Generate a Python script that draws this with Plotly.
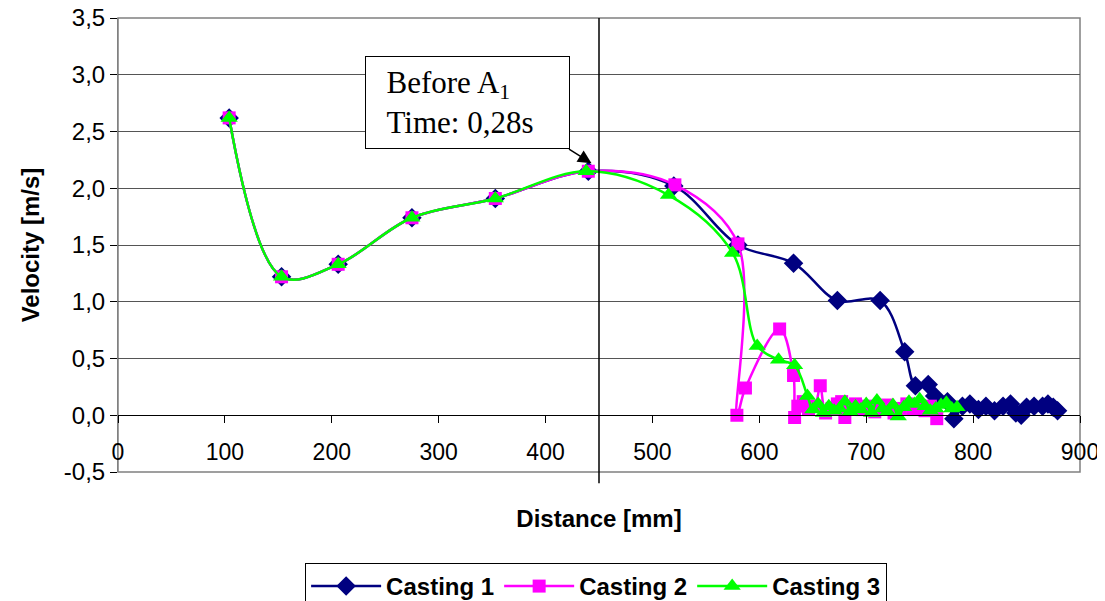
import plotly.graph_objects as go

# ---- data ----
c1_x = [104, 153, 206, 275, 353, 440, 520, 580, 632, 673, 713, 736, 746, 758, 764, 776, 782,
        790, 797, 805, 812, 820, 828, 835, 840, 845, 850, 857, 865, 870, 875, 879]
c1_y = [2.62, 1.22, 1.33, 1.74, 1.91, 2.15, 2.02, 1.50, 1.34, 1.01, 1.01, 0.56, 0.26, 0.27, 0.17, 0.12, -0.03,
        0.08, 0.10, 0.05, 0.08, 0.04, 0.08, 0.10, 0.02, 0.00, 0.07, 0.08, 0.08, 0.10, 0.07, 0.04]

c2_x = [104, 153, 206, 275, 353, 440, 521, 580, 579, 587, 619, 632, 633, 636, 641, 646, 652, 657, 662,
        668, 673, 677, 680, 684, 690, 696, 702, 708, 714, 720, 726, 732, 738, 744, 750, 755, 760, 766]
c2_y = [2.62, 1.22, 1.33, 1.74, 1.91, 2.15, 2.03, 1.51, 0.00, 0.24, 0.76, 0.35, -0.02, 0.08, 0.12, 0.05, 0.08, 0.26, 0.02,
        0.06, 0.10, 0.12, -0.02, 0.08, 0.10, 0.05, 0.08, 0.03, 0.07, 0.09, 0.02, 0.06, 0.10, 0.05, 0.08, 0.04, 0.08, -0.03]

c3_x = [104, 153, 206, 275, 353, 438, 515, 575, 598, 618, 633, 645, 650, 655, 660, 665, 670, 675, 680, 685,
        690, 695, 700, 705, 710, 715, 720, 725, 730, 735, 740, 745, 750, 755, 760, 765, 770, 775, 780, 785]
c3_y = [2.62, 1.22, 1.33, 1.74, 1.91, 2.15, 1.94, 1.43, 0.61, 0.49, 0.44, 0.17, 0.05, 0.10, 0.02, 0.08, 0.04, 0.06, 0.12, 0.03,
        0.08, 0.05, 0.10, 0.02, 0.13, 0.06, 0.03, 0.09, -0.01, 0.07, 0.12, 0.10, 0.14, 0.08, 0.04, 0.06, 0.09, 0.11, 0.06, 0.07]

series_names = ["Casting 1", "Casting 2", "Casting 3"]
series_colors = ["#000080", "#FF00FF", "#00FF00"]
series_symbols = ["diamond", "square", "triangle-up"]
series_msizes = [15, 13, 15]

y_tick_vals = [-0.5, 0.0, 0.5, 1.0, 1.5, 2.0, 2.5, 3.0, 3.5]
y_tick_text = ["-0,5", "0,0", "0,5", "1,0", "1,5", "2,0", "2,5", "3,0", "3,5"]
x_tick_vals = [0, 100, 200, 300, 400, 500, 600, 700, 800, 900]
x_tick_text = ["0", "100", "200", "300", "400", "500", "600", "700", "800", "900"]

marker_line_x = 450  # vertical reference line
annot_text = "&nbsp;&nbsp;Before A<sub>1</sub><br>&nbsp;&nbsp;Time: 0,28s"

fig = go.Figure()
for name, xs, ys, col, sym, ms in zip(series_names, [c1_x, c2_x, c3_x], [c1_y, c2_y, c3_y],
                                      series_colors, series_symbols, series_msizes):
    fig.add_trace(go.Scatter(
        x=xs, y=ys, name=name, mode="lines+markers",
        line=dict(color=col, width=2.5, shape="spline", smoothing=1.0),
        marker=dict(symbol=sym, size=ms, color=col),
    ))

# page has an 8px body margin, so the figure is drawn 8px smaller and shifted
fig.update_layout(
    width=1097, height=593,
    margin=dict(l=110, r=25, t=10, b=129, autoexpand=False),
    plot_bgcolor="white", paper_bgcolor="white",
    font=dict(family="Arial, Liberation Sans", color="black"),
    showlegend=True,
    legend=dict(
        orientation="h", x=0.497, xanchor="center", y=-0.2004, yanchor="top",
        bordercolor="black", borderwidth=1, bgcolor="white",
        font=dict(size=24, family="Arial, Liberation Sans", weight="bold"),
        itemwidth=70, tracegroupgap=0,
    ),
    xaxis=dict(
        range=[0, 900], tickmode="array", tickvals=x_tick_vals, ticktext=x_tick_text,
        showgrid=False, zeroline=False,
        anchor="free", position=0.125, automargin=False,
        showline=True, linecolor="black", linewidth=1,
        ticks="outside", ticklen=7, tickcolor="black",
        ticklabelstandoff=9, ticklabeloverflow="allow",
        tickfont=dict(size=23),
        title=dict(text="<b>Distance [mm]</b>", font=dict(size=24), standoff=46),
    ),
    yaxis=dict(
        range=[-0.5, 3.5], tickmode="array", tickvals=y_tick_vals, ticktext=y_tick_text,
        automargin=False, ticklabeloverflow="allow",
        showgrid=True, gridcolor="#555", gridwidth=1, zeroline=False,
        showline=True, linecolor="#808080", linewidth=1,
        ticks="outside", ticklen=7, tickcolor="black",
        tickfont=dict(size=24),
        title=dict(text="<b>Velocity [m/s]</b>", font=dict(size=24), standoff=17),
    ),
)

# plot-area border
fig.add_shape(type="rect", xref="paper", yref="paper", x0=0, x1=1, y0=0, y1=1,
              line=dict(color="#808080", width=1.5), layer="below")
# vertical reference line
fig.add_shape(type="line", xref="x", yref="paper", x0=marker_line_x, x1=marker_line_x,
              y0=1, y1=-0.025, line=dict(color="black", width=1.5))

# text box
fig.add_annotation(
    xref="paper", yref="paper", x=0.2568, y=0.9163, xanchor="left", yanchor="top",
    text=annot_text, showarrow=False, align="left",
    font=dict(family="Liberation Serif, Times New Roman", size=31, color="black"),
    bgcolor="white", bordercolor="black", borderwidth=1, borderpad=5,
    width=193, height=81,
)
# arrow
fig.add_annotation(
    xref="x", yref="y", x=443, y=2.22, ax=-24, ay=-15, text="",
    showarrow=True, arrowhead=2, arrowsize=1.8, arrowwidth=1.5, arrowcolor="black",
)

fig.write_html("out.html")
